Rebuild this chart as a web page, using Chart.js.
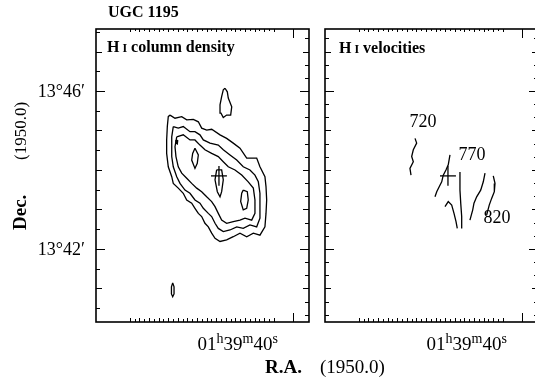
<!DOCTYPE html>
<html><head><meta charset="utf-8">
<script src="https://cdn.jsdelivr.net/npm/chart.js@4.4.1/dist/chart.umd.min.js"></script>
<style>
html,body{margin:0;padding:0;background:#fff;overflow:hidden;}
#wrap{position:relative;width:535px;height:381px;overflow:hidden;background:#fff;}
#c1{position:absolute;left:0;top:0;width:317px;height:381px;}
#c2{position:absolute;left:317px;top:0;width:240px;height:381px;}
</style></head><body>
<div id="wrap"><canvas id="c1" width="317" height="381"></canvas><canvas id="c2" width="240" height="381"></canvas></div>
<script>
// Axes: x = R.A. seconds past 01h39m (1950.0), y = Dec. arcmin past 13° (1950.0)
const RA_MIN = 38.33, RA_MAX = 60.52;
const DEC_MIN = 40.15, DEC_MAX = 47.57;
const decLabelValues = [46, 42];
const decLabelTexts = ["13°46′", "13°42′"];
const raLabelValue = 40;
const raLabelParts = ["01", "h", "39", "m", "40", "s"];

// H I column density contours (closed)
const nhiLevel1 = [[52.81,45.39],[52.29,45.31],[51.59,45.35],[51.07,45.27],[50.38,45.28],[49.86,45.22],[49.51,45.06],[48.99,45.01],[48.47,45.03],[47.60,44.89],[46.91,44.80],[46.22,44.68],[45.52,44.55],[44.82,44.30],[43.78,44.30],[43.44,44.08],[42.92,43.83],[42.81,43.58],[42.74,43.24],[42.81,42.90],[42.92,42.56],[43.44,42.35],[44.13,42.40],[44.82,42.31],[45.52,42.40],[46.22,42.31],[46.91,42.23],[47.60,42.19],[48.12,42.27],[48.47,42.40],[48.82,42.56],[49.17,42.65],[49.51,42.82],[49.86,42.90],[50.21,43.03],[50.55,43.16],[51.07,43.24],[51.43,43.41],[51.95,43.54],[52.47,43.66],[52.63,43.83],[52.99,44.08],[53.16,44.42],[53.16,44.76],[53.09,45.10],[52.99,45.35]];
const nhiLevel2 = [[52.47,45.10],[51.95,45.06],[51.43,45.10],[50.73,44.97],[50.21,44.97],[49.69,44.89],[49.34,44.76],[48.64,44.68],[47.78,44.63],[47.26,44.51],[46.56,44.38],[45.86,44.25],[45.18,44.08],[44.48,44.00],[43.96,43.87],[43.61,43.70],[43.44,43.41],[43.44,43.07],[43.44,42.78],[43.78,42.56],[44.48,42.61],[45.18,42.52],[45.86,42.56],[46.56,42.48],[47.26,42.44],[47.78,42.52],[48.12,42.65],[48.47,42.82],[48.82,42.90],[49.34,43.03],[49.69,43.16],[50.21,43.24],[50.73,43.41],[51.25,43.49],[51.77,43.66],[52.11,43.83],[52.47,44.08],[52.63,44.34],[52.63,44.59],[52.63,44.84]];
const nhiLevel3 = [[52.11,44.84],[51.43,44.89],[50.73,44.76],[50.21,44.76],[49.69,44.63],[49.17,44.51],[48.47,44.42],[47.78,44.34],[47.26,44.21],[46.74,44.08],[46.04,44.00],[45.34,43.87],[44.66,43.70],[44.13,43.54],[43.96,43.24],[43.96,42.90],[44.30,42.73],[45.00,42.78],[45.52,42.73],[46.22,42.69],[46.91,42.65],[47.43,42.73],[47.78,42.90],[48.12,43.07],[48.47,43.20],[48.99,43.32],[49.51,43.45],[50.03,43.54],[50.55,43.66],[51.07,43.79],[51.59,43.92],[51.95,44.08],[52.19,44.34],[52.29,44.59]];
const nhiPeakWest = [[50.21,44.55],[49.86,44.38],[49.97,44.17],[50.21,44.04],[50.55,44.25],[50.45,44.42]];
const nhiPeakCentre = [[47.95,44.00],[47.43,44.00],[47.26,43.75],[47.43,43.45],[47.60,43.32],[47.88,43.45],[48.12,43.75]];
const nhiPeakEast = [[45.18,43.49],[44.76,43.45],[44.66,43.24],[44.82,43.03],[45.18,42.99],[45.45,43.20],[45.34,43.41]];
const nhiKnot = [[52.19,44.76],[52.01,44.74],[52.05,44.66],[52.19,44.68]];
const nhiNorthCloud = [[47.08,46.07],[46.84,45.98],[46.74,45.82],[46.38,45.60],[46.49,45.39],[46.91,45.39],[47.26,45.33],[47.50,45.44],[47.60,45.65],[47.43,45.86],[47.26,46.03]];
const nhiSouthBlob = [[52.53,41.14],[52.39,41.04],[52.39,40.86],[52.53,40.79],[52.66,40.86],[52.66,41.04]];

// H I velocity contours (open)
const vel720 = [[51.14,44.80],[50.97,44.68],[51.32,44.51],[51.49,44.34],[51.32,44.21],[51.67,44.04],[51.56,43.87]];
const vel745 = [[47.50,44.38],[47.68,44.13],[47.92,44.00],[48.20,43.87],[48.36,43.70],[48.61,43.58],[48.88,43.45],[49.06,43.32]];
const vel770 = [[46.46,43.95],[46.46,43.49],[46.38,43.16],[46.28,42.82],[46.28,42.52]];
const vel770b = [[48.02,43.07],[47.68,43.20],[47.32,43.11],[47.08,42.90],[46.87,42.69],[46.74,42.52]];
const vel795 = [[43.85,43.92],[44.03,43.70],[44.30,43.49],[44.72,43.32],[45.00,43.16],[45.13,42.99],[45.42,42.73]];
const vel820 = [[42.99,43.85],[42.81,43.66],[42.88,43.45],[43.16,43.28],[43.41,43.11],[43.68,42.86]];
const velLabels = ["720", "770", "820"];
const velLabelPos = [[50.31,45.20],[45.21,44.37],[42.60,42.78]];

// optical centre marker
const crossCentre = [47.71, 43.85];
const crossHalf = [0.83, 0.25];

const SERIF = '"Liberation Serif", "Times New Roman", serif';

function line(pts, closed) {
  const d = pts.map(p => ({x: p[0], y: p[1]}));
  if (closed) d.push({x: pts[0][0], y: pts[0][1]});
  return {data: d, showLine: true, fill: false, borderColor: '#000', borderWidth: 1.3, pointRadius: 0, tension: 0};
}
function crossSets() {
  const [cx, cy] = crossCentre, [hx, hy] = crossHalf;
  return [line([[cx - hx, cy], [cx + hx, cy]], false), line([[cx, cy - hy], [cx, cy + hy]], false)];
}
function runs(ctx, x, y, parts) {
  let cx = x;
  for (const p of parts) {
    ctx.font = p.f;
    ctx.fillText(p.t, cx, y + (p.dy || 0));
    cx += ctx.measureText(p.t).width + (p.gap || 0);
  }
}

const framePlugin = {
  id: 'frame',
  afterDraw(chart, args, o) {
    const {ctx, chartArea: a, scales: {x, y}} = chart;
    ctx.save();
    ctx.strokeStyle = '#000';
    ctx.fillStyle = '#000';
    ctx.lineWidth = 1.6;
    ctx.strokeRect(a.left, a.top, a.right - a.left, a.bottom - a.top);
    ctx.lineWidth = 1;
    ctx.beginPath();
    const sideTicks = (step, xpos, dir) => {
      for (let k = Math.ceil(DEC_MIN / step); k * step <= DEC_MAX; k++) {
        const v = k * step;
        const isInt = Math.abs(v - Math.round(v)) < 1e-6;
        const labelled = decLabelValues.includes(Math.round(v)) && isInt;
        const len = labelled ? 9 : (isInt ? 6 : 4);
        const py = Math.round(y.getPixelForValue(v)) + 0.5;
        ctx.moveTo(xpos, py); ctx.lineTo(xpos + dir * len, py);
      }
    };
    sideTicks(o.leftStep, a.left, 1);
    sideTicks(o.rightStep, a.right, -1);
    for (let v = 42; v <= 57; v += 0.5) {
      const px = Math.round(x.getPixelForValue(v)) + 0.5;
      const len = Number.isInteger(v) ? 4 : 3;
      ctx.moveTo(px, a.bottom); ctx.lineTo(px, a.bottom - len);
      ctx.moveTo(px, a.top); ctx.lineTo(px, a.top + len - 1);
    }
    const pm = Math.round(x.getPixelForValue(raLabelValue)) + 0.5;
    ctx.moveTo(pm, a.bottom); ctx.lineTo(pm, a.bottom - 9);
    ctx.moveTo(pm, a.top); ctx.lineTo(pm, a.top + 9);
    ctx.stroke();

    ctx.textBaseline = 'alphabetic';
    if (o.yLabels) {
      ctx.textAlign = 'right';
      ctx.font = '18px ' + SERIF;
      decLabelValues.forEach((v, i) => {
        ctx.fillText(decLabelTexts[i], 85, y.getPixelForValue(v) + 6);
      });
    }
    ctx.textAlign = 'left';
    const big = '19px ' + SERIF, sup = '14px ' + SERIF;
    runs(ctx, pm - 96, a.bottom + 28, raLabelParts.map((t, i) => (i % 2 ? {t, f: sup, dy: -7} : {t, f: big})));

    if (o.velLabels) {
      ctx.textAlign = 'center';
      ctx.textBaseline = 'middle';
      ctx.font = '18px ' + SERIF;
      velLabels.forEach((t, i) => ctx.fillText(t, x.getPixelForValue(velLabelPos[i][0]), y.getPixelForValue(velLabelPos[i][1])));
    }
    ctx.textAlign = 'left';
    ctx.textBaseline = 'alphabetic';
    if (o.draw) o.draw(ctx, a);
    ctx.restore();
  }
};

function makeChart(id, datasets, padding, frameOpts) {
  return new Chart(document.getElementById(id), {
    type: 'scatter',
    data: {datasets},
    options: {
      responsive: false, animation: false, devicePixelRatio: 1,
      layout: {padding},
      plugins: {legend: {display: false}, tooltip: {enabled: false}, frame: frameOpts},
      scales: {
        x: {type: 'linear', reverse: true, min: RA_MIN, max: RA_MAX, display: false},
        y: {type: 'linear', min: DEC_MIN, max: DEC_MAX, display: false}
      }
    },
    plugins: [framePlugin]
  });
}

const leftSets = [
  line(nhiLevel1, true), line(nhiLevel2, true), line(nhiLevel3, true),
  line(nhiPeakWest, true), line(nhiPeakCentre, true), line(nhiPeakEast, true),
  line(nhiKnot, true), line(nhiNorthCloud, true), line(nhiSouthBlob, true),
  ...crossSets()
];
const rightSets = [
  line(vel720, false), line(vel745, false), line(vel770, false), line(vel770b, false),
  line(vel795, false), line(vel820, false), ...crossSets()
];

makeChart('c1', leftSets, {left: 96, right: 8, top: 29, bottom: 59}, {
  leftStep: 0.5, rightStep: 1 / 3, yLabels: true, velLabels: false,
  draw(ctx, a) {
    ctx.font = 'bold 16px ' + SERIF;
    ctx.fillText('UGC 1195', 108, 17);
    runs(ctx, 107, 52, [
      {t: 'H', f: 'bold 16px ' + SERIF, gap: 3},
      {t: 'I', f: 'bold 12px ' + SERIF},
      {t: ' column density', f: 'bold 16px ' + SERIF}
    ]);
    ctx.font = 'bold 19px ' + SERIF;
    ctx.fillText('R.A.', 265, 373);
    ctx.save();
    ctx.translate(26, 166);
    ctx.rotate(-Math.PI / 2);
    ctx.font = 'bold 19px ' + SERIF;
    ctx.fillText('Dec.', -64, 0);
    ctx.font = '17px ' + SERIF;
    ctx.fillText('(1950.0)', 6, 0);
    ctx.restore();
  }
});
makeChart('c2', rightSets, {left: 8, right: 19, top: 29, bottom: 59}, {
  leftStep: 1 / 3, rightStep: 1 / 3, yLabels: false, velLabels: true,
  draw(ctx, a) {
    runs(ctx, 22, 53, [
      {t: 'H', f: 'bold 16px ' + SERIF, gap: 3},
      {t: 'I', f: 'bold 12px ' + SERIF},
      {t: ' velocities', f: 'bold 16px ' + SERIF}
    ]);
    ctx.font = '19px ' + SERIF;
    ctx.fillText('(1950.0)', 3, 373);
  }
});
</script>
</body></html>
